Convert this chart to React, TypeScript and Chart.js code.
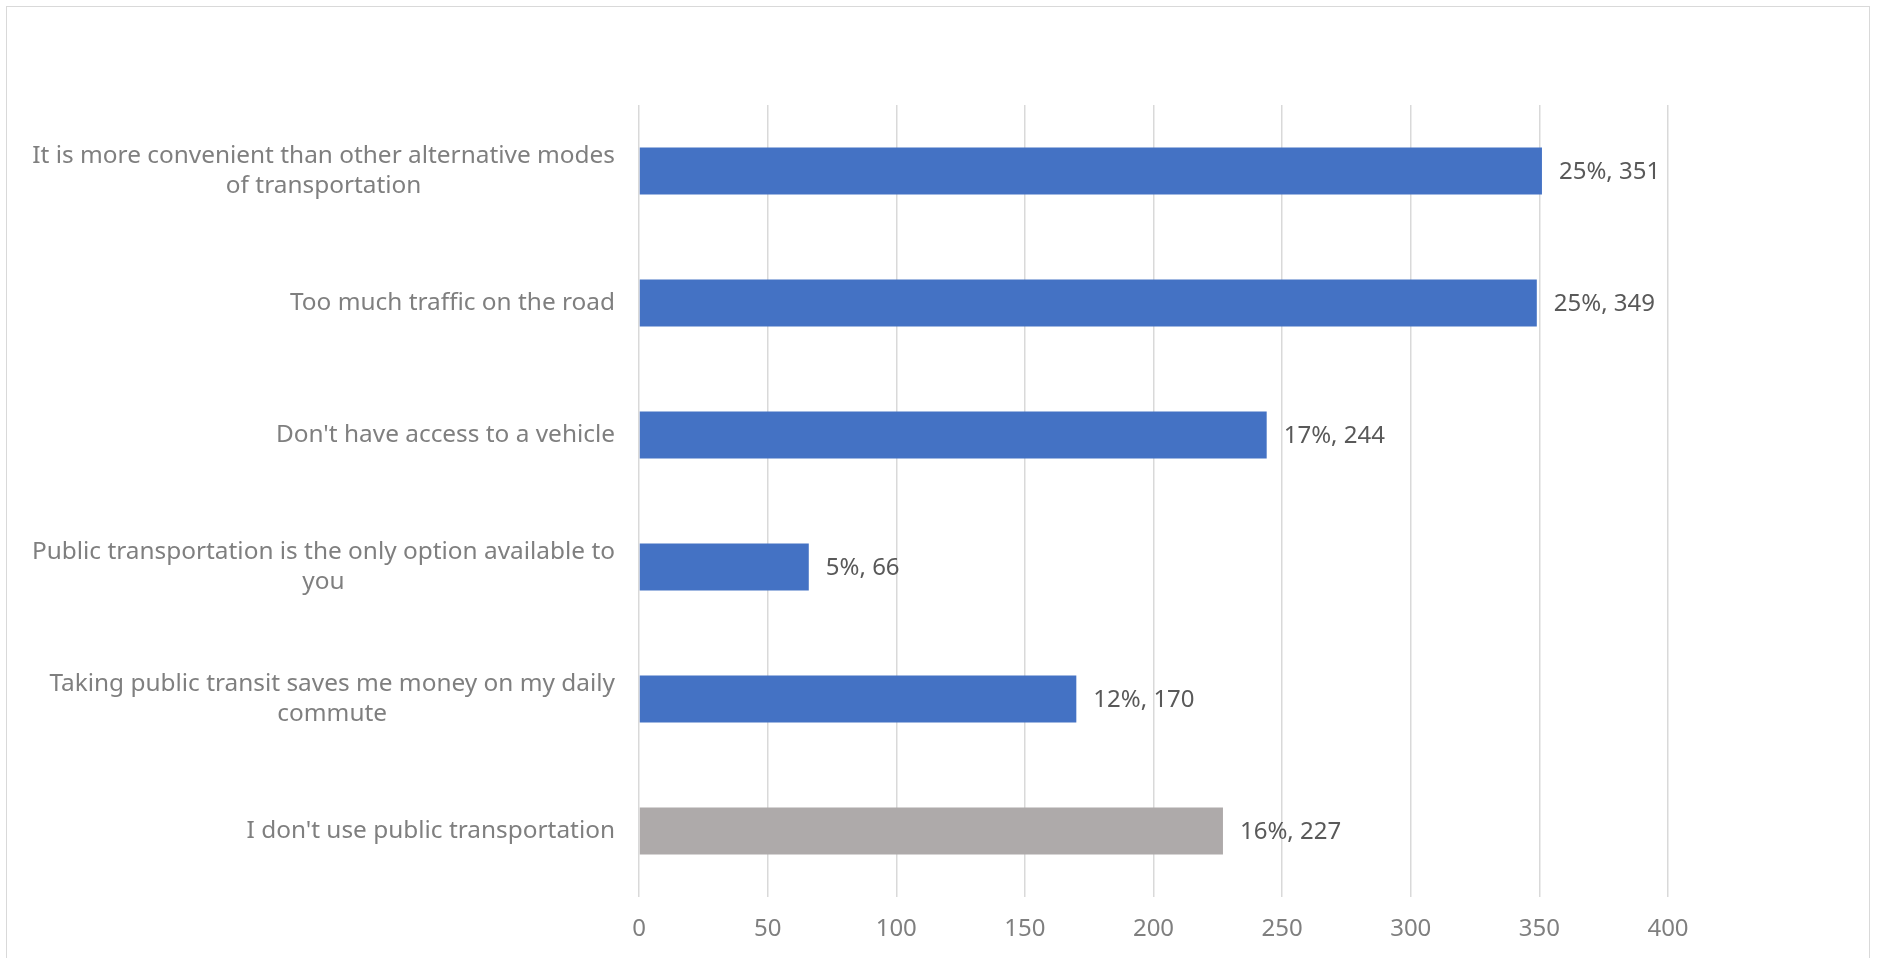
import { useEffect, useRef } from "react";
import { Chart, registerables } from "chart.js";

Chart.register(...registerables);

// Reasons given for using public transit (wrapped lines of each answer)
const categoryLines: string[][] = [
  ["It is more convenient than other alternative modes", "of transportation"],
  ["Too much traffic on the road"],
  ["Don't have access to a vehicle"],
  ["Public transportation is the only option available to", "you"],
  ["Taking public transit saves me money on my daily", "commute"],
  ["I don't use public transportation"],
];

// Number of respondents per answer
const responses: number[] = [351, 349, 244, 66, 170, 227];

// Share of all responses, in percent
const shares: number[] = [25, 25, 17, 5, 12, 16];

const barColors: string[] = [
  "#4472C4",
  "#4472C4",
  "#4472C4",
  "#4472C4",
  "#4472C4",
  "#AEAAAA",
];

const axisMin = 0;
const axisMax = 400;
const axisStep = 50;

const FONT_FAMILY = '"Noto Sans", "Liberation Sans", sans-serif';
const W = 1879;
const H = 958;

const frame = {
  id: "frame",
  beforeDraw(chart: Chart) {
    const ctx = chart.ctx;
    ctx.save();
    ctx.fillStyle = "#FFFFFF";
    ctx.fillRect(0, 0, chart.width, chart.height);
    ctx.strokeStyle = "#D9D9D9";
    ctx.lineWidth = 1;
    ctx.strokeRect(6.5, 6.5, 1863, chart.height + 10);
    ctx.restore();
  },
};

// Answer text left of each bar: block right-aligned, lines centred in the block
const categoryText = {
  id: "categoryText",
  afterDraw(chart: Chart) {
    const ctx = chart.ctx;
    const yScale = chart.scales.y;
    const right = chart.chartArea.left - 24;
    const lineGap = 30;
    ctx.save();
    ctx.font = `24.4px ${FONT_FAMILY}`;
    ctx.fillStyle = "#7F7F7F";
    ctx.textAlign = "center";
    ctx.textBaseline = "middle";
    categoryLines.forEach((lines, i) => {
      const y = yScale.getPixelForTick(i);
      const widest = Math.max(...lines.map((l) => ctx.measureText(l).width));
      const cx = right - widest / 2;
      const y0 = y - ((lines.length - 1) * lineGap) / 2;
      lines.forEach((line, j) => ctx.fillText(line, cx, y0 + j * lineGap));
    });
    ctx.restore();
  },
};

// "share%, count" next to the end of each bar
const valueText = {
  id: "valueText",
  afterDatasetsDraw(chart: Chart) {
    const ctx = chart.ctx;
    const meta = chart.getDatasetMeta(0);
    ctx.save();
    ctx.font = `24px ${FONT_FAMILY}`;
    ctx.fillStyle = "#595959";
    ctx.textAlign = "left";
    ctx.textBaseline = "middle";
    meta.data.forEach((bar: any, i: number) => {
      ctx.fillText(`${shares[i]}%, ${responses[i]}`, bar.x + 17, bar.y + 1);
    });
    ctx.restore();
  },
};

export default function App() {
  const canvasRef = useRef<HTMLCanvasElement | null>(null);

  useEffect(() => {
    const canvas = canvasRef.current;
    if (!canvas) return;
    const chart = new Chart(canvas, {
      type: "bar",
      data: {
        labels: categoryLines.map((l) => l.join(" ")),
        datasets: [
          {
            data: responses,
            backgroundColor: barColors,
            borderWidth: 0,
            barPercentage: 0.356,
            categoryPercentage: 1,
          },
        ],
      },
      options: {
        indexAxis: "y",
        responsive: false,
        animation: false,
        devicePixelRatio: 1,
        layout: { padding: { left: 0, top: 105, right: W - 1668, bottom: 0 } },
        plugins: {
          legend: { display: false },
          tooltip: { enabled: false },
          title: { display: false },
        },
        scales: {
          x: {
            type: "linear",
            position: "bottom",
            min: axisMin,
            max: axisMax,
            ticks: {
              stepSize: axisStep,
              color: "#7F7F7F",
              font: { family: FONT_FAMILY, size: 24 },
              padding: 18,
              maxRotation: 0,
            },
            grid: {
              color: "#D9D9D9",
              lineWidth: 1.5,
              drawTicks: false,
            },
            border: { display: false },
            afterFit(scale: any) {
              scale.height = H - 897;
            },
          },
          y: {
            type: "category",
            ticks: { display: false },
            grid: { display: false },
            border: { display: false },
            afterFit(scale: any) {
              scale.width = 639;
            },
          },
        },
      },
      plugins: [frame, categoryText, valueText],
    });
    return () => chart.destroy();
  }, []);

  return (
    <div
      style={{
        position: "absolute",
        left: 0,
        top: 0,
        width: W,
        height: H,
        overflow: "hidden",
        background: "#FFFFFF",
      }}
    >
      <canvas ref={canvasRef} width={W} height={H} style={{ display: "block", width: W, height: H }} />
    </div>
  );
}
